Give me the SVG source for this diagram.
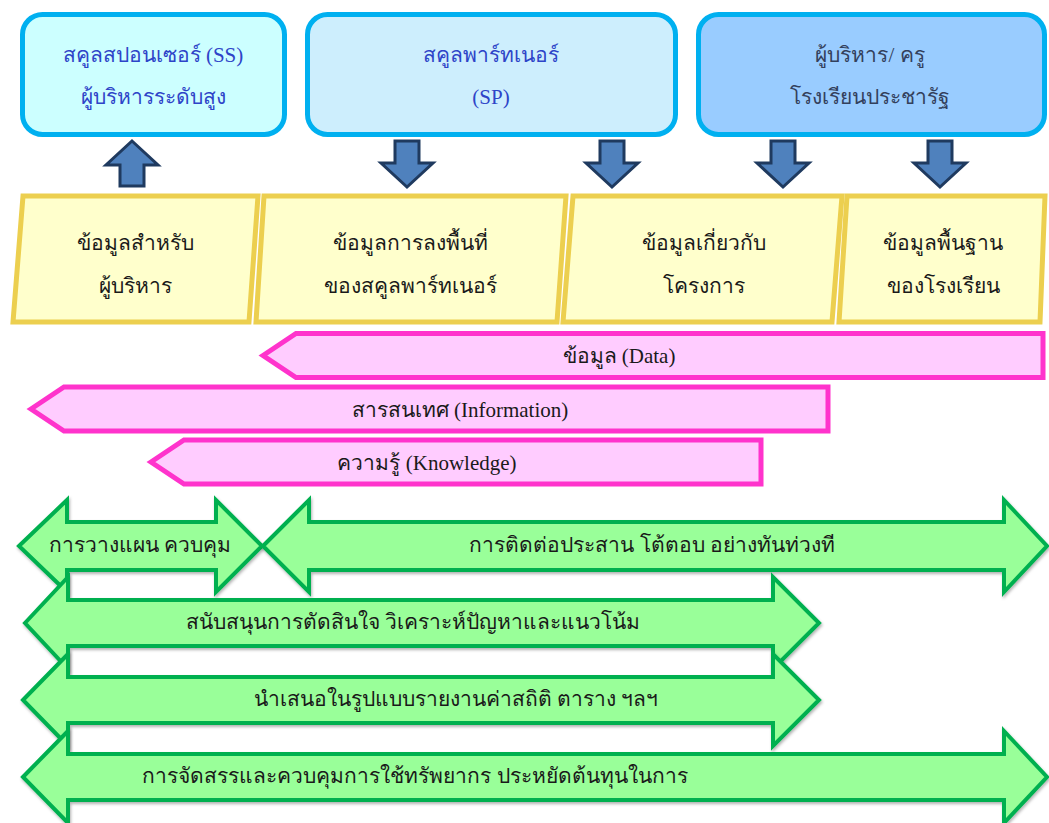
<svg xmlns="http://www.w3.org/2000/svg" width="1049" height="823" viewBox="0 0 1049 823">
<defs>
<style>
text{font-family:"Liberation Serif","DejaVu Serif",serif;font-size:21px;text-anchor:middle;dominant-baseline:central}
.top{stroke:#00b0f0;stroke-width:5}
.para{fill:#ffffcc;stroke:#eccf4f;stroke-width:5}
.pink{fill:#ffccff;stroke:#ff33cc;stroke-width:5}
.green{fill:#99ff99;stroke:#00b050;stroke-width:4;stroke-linejoin:miter;filter:url(#sh)}
.blk{fill:#4f81bd;stroke:#1f3a5f;stroke-width:3}
.tb{fill:#2e44c8}
.td{fill:#33405c}
.tk{fill:#1a1a1a}
</style>
<filter id="sh" x="-5%" y="-10%" width="110%" height="130%">
<feDropShadow dx="1" dy="2" stdDeviation="1.5" flood-color="#000" flood-opacity="0.3"/>
</filter>
</defs>
<rect width="1049" height="823" fill="#fff"/>

<g id="box-ss">
<rect class="top" x="22.5" y="14.5" width="262" height="120" rx="20" fill="#ccffff"/>
<text class="tb" x="153" y="55">สคูลสปอนเซอร์ (SS)</text>
<text class="tb" x="153" y="97">ผู้บริหารระดับสูง</text>
</g>
<g id="box-sp">
<rect class="top" x="307.5" y="14.5" width="368" height="120" rx="20" fill="#cdeefd"/>
<text class="tb" x="491" y="55">สคูลพาร์ทเนอร์</text>
<text class="tb" x="491" y="97">(SP)</text>
</g>
<g id="box-school">
<rect class="top" x="698.5" y="14.5" width="346" height="120" rx="20" fill="#99ccff"/>
<text class="td" x="870" y="55">ผู้บริหาร/ ครู</text>
<text class="td" x="870" y="97">โรงเรียนประชารัฐ</text>
</g>

<g id="connectors">
<path class="blk" d="M132,141 L158,165 L144,165 L144,186 L120,186 L120,165 L106,165 Z"/>
<path class="blk" d="M395,141 L419,141 L419,163 L433,163 L407,187 L381,163 L395,163 Z"/>
<path class="blk" d="M600,141 L624,141 L624,163 L638,163 L612,187 L586,163 L600,163 Z"/>
<path class="blk" d="M771,141 L795,141 L795,163 L809,163 L783,187 L757,163 L771,163 Z"/>
<path class="blk" d="M928,141 L952,141 L952,163 L966,163 L940,187 L914,163 L928,163 Z"/>
</g>

<g id="para-exec">
<path class="para" d="M23,196 L258,196 L249,322 L13,322 Z"/>
<text class="tk" x="135" y="243">ข้อมูลสำหรับ</text>
<text class="tk" x="135" y="286">ผู้บริหาร</text>
</g>
<g id="para-visit">
<path class="para" d="M264,196 L566,196 L557,322 L256,322 Z"/>
<text class="tk" x="410" y="243">ข้อมูลการลงพื้นที่</text>
<text class="tk" x="410" y="286">ของสคูลพาร์ทเนอร์</text>
</g>
<g id="para-project">
<path class="para" d="M573,196 L842,196 L832,322 L563,322 Z"/>
<text class="tk" x="704" y="243">ข้อมูลเกี่ยวกับ</text>
<text class="tk" x="704" y="286">โครงการ</text>
</g>
<g id="para-basic">
<path class="para" d="M847,196 L1045,196 L1040,322 L839,322 Z"/>
<text class="tk" x="943" y="243">ข้อมูลพื้นฐาน</text>
<text class="tk" x="943" y="286">ของโรงเรียน</text>
</g>

<g id="arrow-data">
<path class="pink" d="M263,355.5 L296,333.5 L1043,333.5 L1043,377.5 L296,377.5 Z"/>
<text class="tk" x="619" y="356">ข้อมูล (Data)</text>
</g>
<g id="arrow-info">
<path class="pink" d="M31,409 L64,387 L828,387 L828,431 L64,431 Z"/>
<text class="tk" x="460" y="410">สารสนเทศ (Information)</text>
</g>
<g id="arrow-knowledge">
<path class="pink" d="M151,462 L184,440 L761,440 L761,484 L184,484 Z"/>
<text class="tk" x="427" y="463">ความรู้ (Knowledge)</text>
</g>

<g id="arrow-plan">
<path class="green" d="M19,546 L67,500 L67,522 L216,522 L216,500 L262,546 L216,592 L216,570 L67,570 L67,592 Z"/>
<text class="tk" x="140" y="545">การวางแผน ควบคุม</text>
</g>
<g id="arrow-coord">
<path class="green" d="M263,546 L309,500 L309,522 L1004,522 L1004,500 L1047,546 L1004,592 L1004,570 L309,570 L309,592 Z"/>
<text class="tk" x="652" y="545">การติดต่อประสาน โต้ตอบ อย่างทันท่วงที</text>
</g>
<g id="arrow-decision">
<path class="green" d="M25,623 L68,577 L68,600 L773,600 L773,577 L819,623 L773,669 L773,646 L68,646 L68,669 Z"/>
<text class="tk" x="413" y="622">สนับสนุนการตัดสินใจ วิเคราะห์ปัญหาและแนวโน้ม</text>
</g>
<g id="arrow-report">
<path class="green" d="M23,700 L68,654 L68,677 L773,677 L773,654 L819,700 L773,746 L773,723 L68,723 L68,746 Z"/>
<text class="tk" x="456" y="699">นำเสนอในรูปแบบรายงานค่าสถิติ ตาราง ฯลฯ</text>
</g>
<g id="arrow-resource">
<path class="green" d="M23,777 L68,731 L68,754 L1004,754 L1004,731 L1047,777 L1004,823 L1004,800 L68,800 L68,823 Z"/>
<text class="tk" x="415" y="776">การจัดสรรและควบคุมการใช้ทรัพยากร ประหยัดต้นทุนในการ</text>
</g>
</svg>
